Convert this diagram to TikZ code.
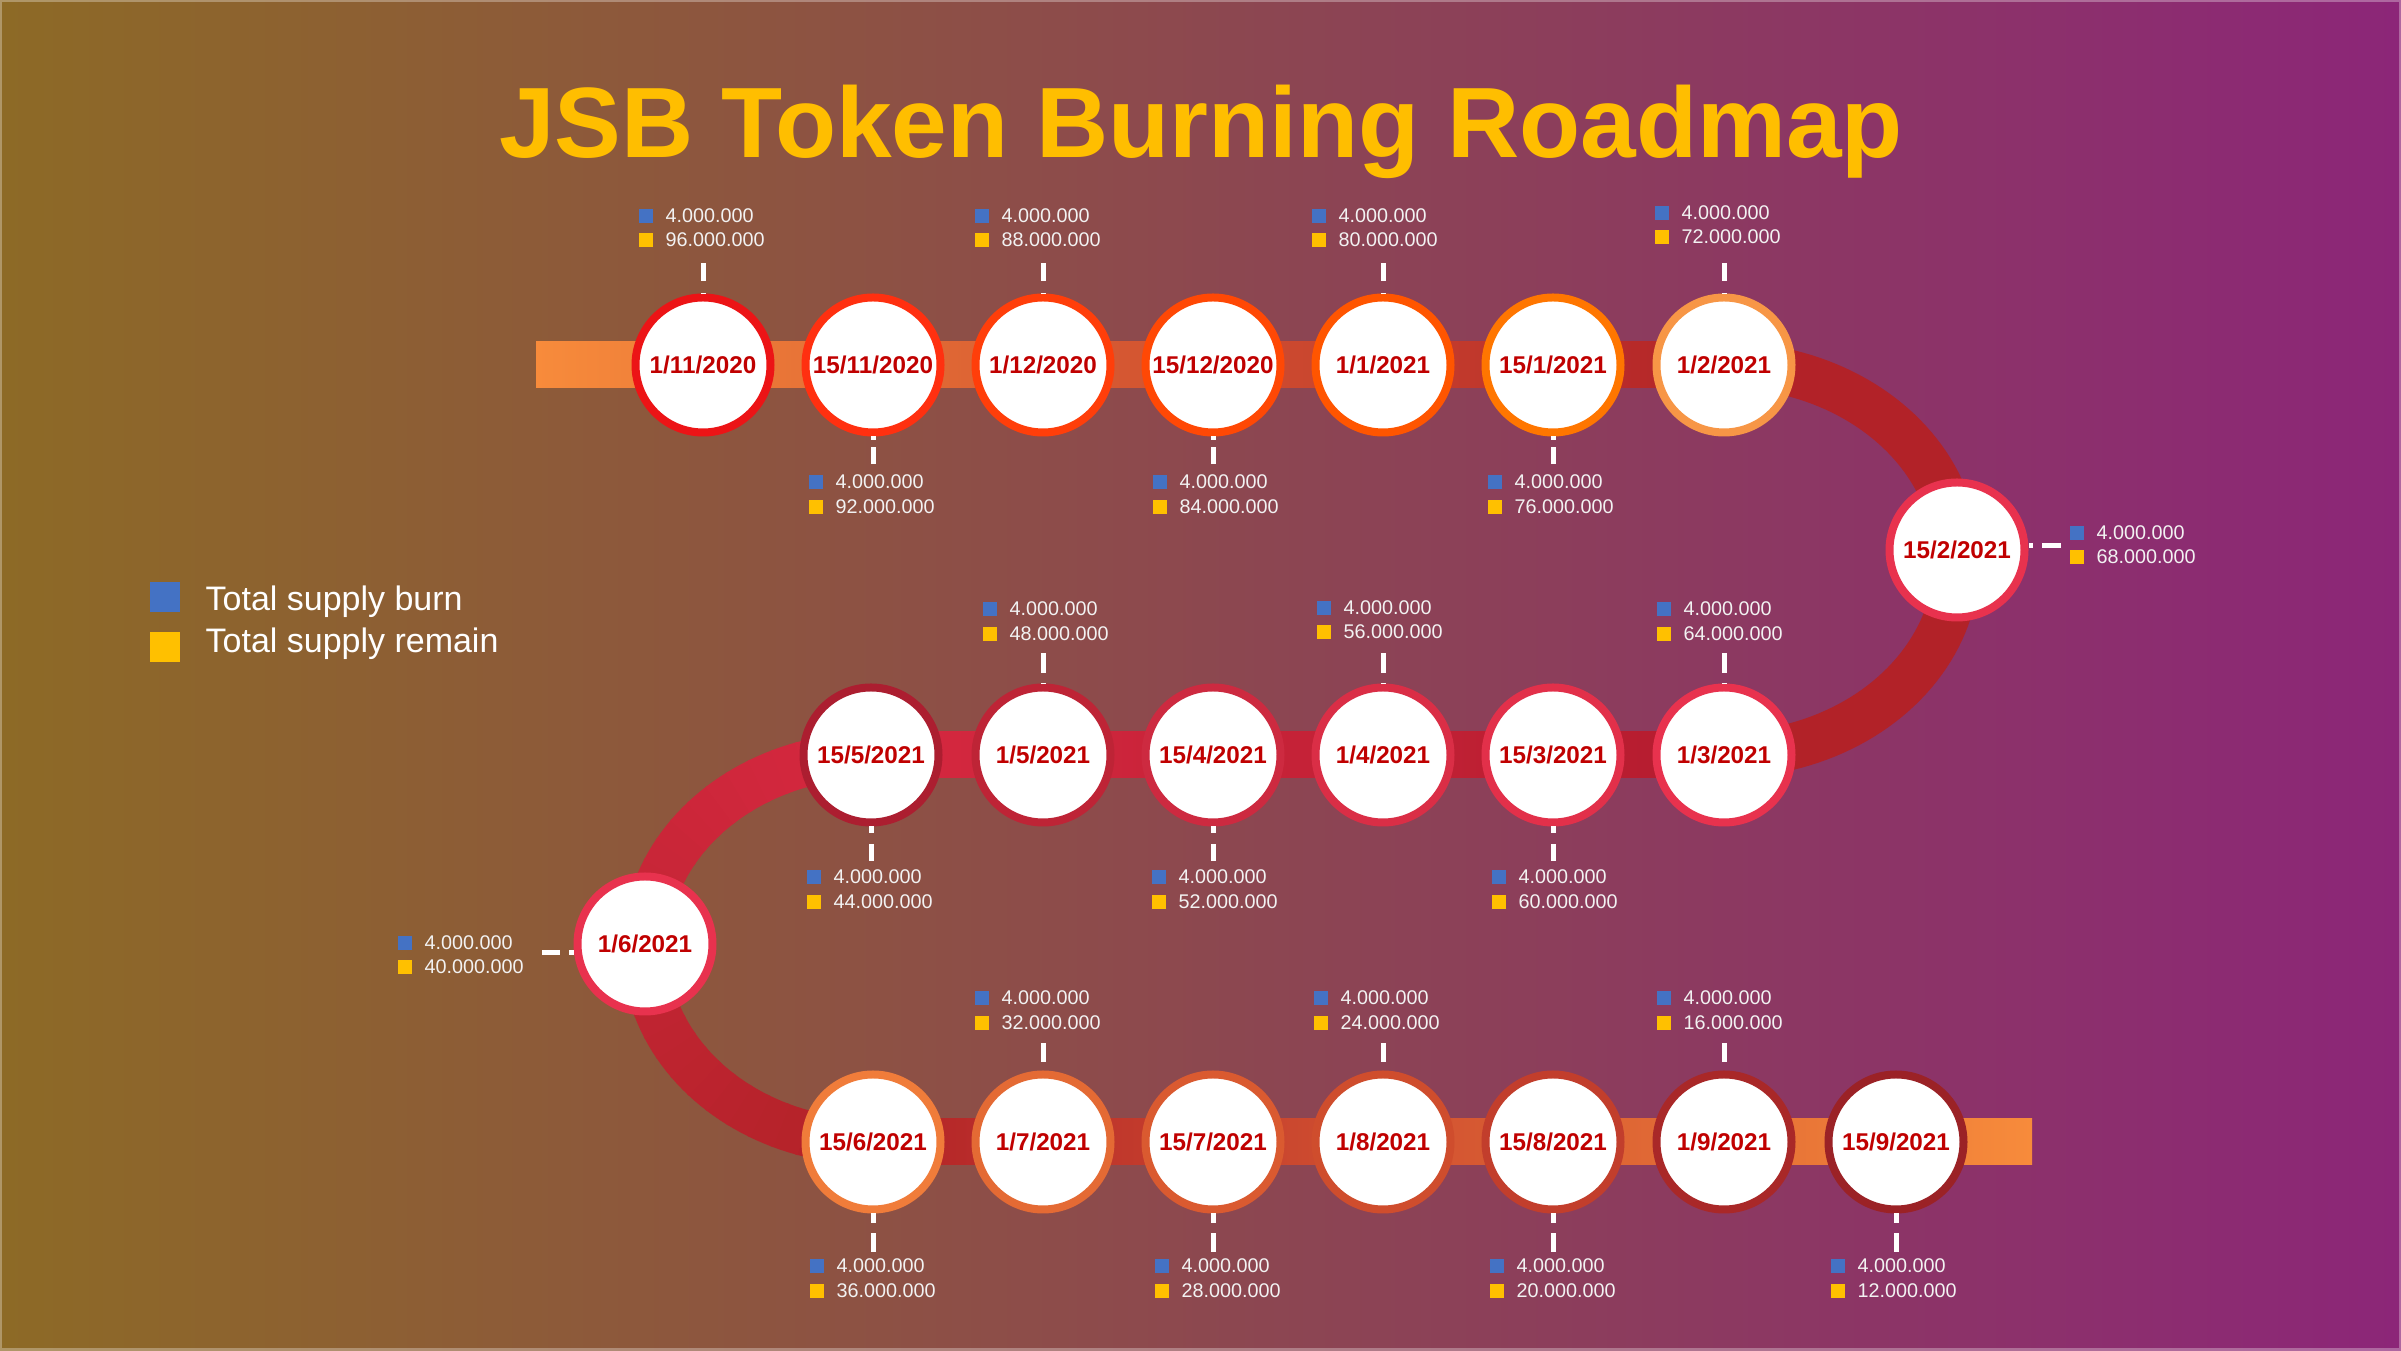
\documentclass[tikz,border=0pt]{standalone}
\usepackage{fontspec}
\setmainfont{Liberation Sans}
\definecolor{bgL}{RGB}{141,106,38}
\definecolor{bgM}{RGB}{145,70,86}
\definecolor{bgR}{RGB}{140,38,120}
\definecolor{bandOr}{RGB}{247,139,59}
\definecolor{bandDk}{RGB}{178,34,40}
\definecolor{bandCr}{RGB}{214,40,64}
\definecolor{bandDkb}{RGB}{180,28,46}
\definecolor{datered}{RGB}{192,0,0}
\definecolor{valwhite}{RGB}{242,242,242}
\definecolor{sqblue}{RGB}{68,114,196}
\definecolor{sqyellow}{RGB}{255,192,0}
\definecolor{titleyel}{RGB}{255,190,0}
\definecolor{ra}{RGB}{236,20,22}
\definecolor{rb}{RGB}{255,48,16}
\definecolor{rc}{RGB}{255,62,10}
\definecolor{rd}{RGB}{255,72,5}
\definecolor{re}{RGB}{255,85,0}
\definecolor{rf}{RGB}{255,118,0}
\definecolor{rg}{RGB}{247,150,70}
\definecolor{rh}{RGB}{232,50,78}
\definecolor{ri}{RGB}{226,48,74}
\definecolor{rj}{RGB}{218,46,70}
\definecolor{rk}{RGB}{205,42,64}
\definecolor{rl}{RGB}{190,36,54}
\definecolor{rm}{RGB}{172,30,48}
\definecolor{rn}{RGB}{240,124,58}
\definecolor{ro}{RGB}{228,106,52}
\definecolor{rp}{RGB}{218,90,48}
\definecolor{rq}{RGB}{207,77,45}
\definecolor{rr}{RGB}{194,62,44}
\definecolor{rs}{RGB}{169,40,40}
\definecolor{rt}{RGB}{155,34,38}
\newcommand\jsbtitlefont{\fontsize{28.45pt}{32pt}\selectfont\bfseries}
\newcommand\jsbdatefont{\fontsize{6.9pt}{8pt}\selectfont\bfseries}
\newcommand\jsbvalfont{\fontsize{5.63pt}{7pt}\selectfont}
\newcommand\jsblegfont{\fontsize{9.67pt}{11pt}\selectfont}
% #1 name, #2 text x, #3 y line 1, #4 y line 2, #5 remaining value
\newcommand\jsbval[5]{%
  \fill[sqblue] (#2-26,#3-7) rectangle (#2-12,#3+7);
  \fill[sqyellow] (#2-26,#4-7) rectangle (#2-12,#4+7);
  \node[valt] (#1b) at (#2,#3) {4.000.000};
  \node[valt] (#1r) at (#2,#4) {#5};
}
\begin{document}
\begin{tikzpicture}[x=0.1mm,y=-0.1mm,
  datec/.style={circle, fill=white, line width=0.8mm, minimum size=13.5mm, inner sep=0pt, font=\jsbdatefont, text=datered},
  valt/.style={anchor=west, inner sep=0pt, font=\jsbvalfont, text=valwhite},
  tickl/.style={white, line width=0.5mm},
  legt/.style={anchor=base west, inner sep=0pt, font=\jsblegfont, text=white}]
\useasboundingbox (0,0) rectangle (2401,1351);
% background
\shade[left color=bgL, middle color=bgM, right color=bgR] (0,0) rectangle (2401,1351);
\draw[white, opacity=0.3, line width=0.5mm] (0,0) rectangle (2401,1351);
% bands
\shade[left color=bandOr, right color=bandDk] (536,342) rectangle (1724,388);
\draw[bandDk, line width=4.6mm] plot[domain=-90:90, samples=90, variable=\t] ({1724+233*cos(\t)},{560+195*sin(\t)});
\shade[left color=bandCr, middle color=bandCr, right color=bandDkb] (873,732) rectangle (1724,778);
\foreach \i in {0,...,29}{
  \pgfmathsetmacro\aa{90+6*\i-0.4}
  \pgfmathsetmacro\ab{90+6*(\i+1)+0.4}
  \pgfmathtruncatemacro\pp{100*\i/29}
  \draw[line width=4.6mm, color=bandCr!\pp!bandDk] plot[domain=\aa:\ab, samples=4, variable=\t] ({873+228*cos(\t)},{948.5+193.5*sin(\t)});
}
\shade[left color=bandDk, right color=bandOr] (873,1119) rectangle (2032,1165);
% circles
\node[datec, draw=ra] (n1) at (703,365) {1/11/2020};
\node[datec, draw=rb] (n2) at (873,365) {15/11/2020};
\node[datec, draw=rc] (n3) at (1043,365) {1/12/2020};
\node[datec, draw=rd] (n4) at (1213,365) {15/12/2020};
\node[datec, draw=re] (n5) at (1383,365) {1/1/2021};
\node[datec, draw=rf] (n6) at (1553,365) {15/1/2021};
\node[datec, draw=rg] (n7) at (1724,365) {1/2/2021};
\node[datec, draw=rh] (n8) at (1957,550) {15/2/2021};
\node[datec, draw=rh] (n9) at (1724,755) {1/3/2021};
\node[datec, draw=ri] (n10) at (1553,755) {15/3/2021};
\node[datec, draw=rj] (n11) at (1383,755) {1/4/2021};
\node[datec, draw=rk] (n12) at (1213,755) {15/4/2021};
\node[datec, draw=rl] (n13) at (1043,755) {1/5/2021};
\node[datec, draw=rm] (n14) at (871,755) {15/5/2021};
\node[datec, draw=rh] (n15) at (645,944) {1/6/2021};
\node[datec, draw=rn] (n16) at (873,1142) {15/6/2021};
\node[datec, draw=ro] (n17) at (1043,1142) {1/7/2021};
\node[datec, draw=rp] (n18) at (1213,1142) {15/7/2021};
\node[datec, draw=rq] (n19) at (1383,1142) {1/8/2021};
\node[datec, draw=rr] (n20) at (1553,1142) {15/8/2021};
\node[datec, draw=rs] (n21) at (1724,1142) {1/9/2021};
\node[datec, draw=rt] (n22) at (1896,1142) {15/9/2021};
% ticks row 1
\coordinate (k1) at (703,263);
\coordinate (k2) at (873,464);
\coordinate (k3) at (1043,263);
\coordinate (k4) at (1213,464);
\coordinate (k5) at (1383,263);
\coordinate (k6) at (1553,464);
\coordinate (k7) at (1724,263);
\coordinate (k8) at (2061,546);
\draw[tickl, dash pattern=on 1.8mm off 1.2mm] (k1) -- (n1.north);
\draw[tickl, dash pattern=on 1.8mm off 1.2mm] (k3) -- (n3.north);
\draw[tickl, dash pattern=on 1.8mm off 1.2mm] (k5) -- (n5.north);
\draw[tickl, dash pattern=on 1.8mm off 1.2mm] (k7) -- (n7.north);
\draw[tickl, dash pattern=on 1.7mm off 0.7mm] (k2) -- (n2.south);
\draw[tickl, dash pattern=on 1.7mm off 0.7mm] (k4) -- (n4.south);
\draw[tickl, dash pattern=on 1.7mm off 0.7mm] (k6) -- (n6.south);
\draw[tickl, dash pattern=on 1.9mm off 0.9mm] (k8) -- (k8 -| n8.east);
% ticks row 2
\coordinate (k9) at (1724,653);
\coordinate (k10) at (1553,861);
\coordinate (k11) at (1383,653);
\coordinate (k12) at (1213,861);
\coordinate (k13) at (1043,653);
\coordinate (k14) at (871,861);
\coordinate (k15) at (542,953);
\draw[tickl, dash pattern=on 2mm off 1mm] (k9) -- (n9.north);
\draw[tickl, dash pattern=on 2mm off 1mm] (k11) -- (n11.north);
\draw[tickl, dash pattern=on 2mm off 1mm] (k13) -- (n13.north);
\draw[tickl, dash pattern=on 1.7mm off 1.1mm] (k10) -- (n10.south);
\draw[tickl, dash pattern=on 1.7mm off 1.1mm] (k12) -- (n12.south);
\draw[tickl, dash pattern=on 1.7mm off 1.1mm] (k14) -- (n14.south);
\draw[tickl, dash pattern=on 1.8mm off 0.9mm] (k15) -- (k15 -| n15.west);
% ticks row 3
\coordinate (k16) at (873,1252);
\coordinate (k17) at (1043,1043);
\coordinate (k18) at (1213,1252);
\coordinate (k19) at (1383,1043);
\coordinate (k20) at (1553,1252);
\coordinate (k21) at (1724,1043);
\coordinate (k22) at (1896,1252);
\draw[tickl, dash pattern=on 1.9mm off 0.9mm] (k17) -- (n17.north);
\draw[tickl, dash pattern=on 1.9mm off 0.9mm] (k19) -- (n19.north);
\draw[tickl, dash pattern=on 1.9mm off 0.9mm] (k21) -- (n21.north);
\draw[tickl, dash pattern=on 1.9mm off 1mm] (k16) -- (n16.south);
\draw[tickl, dash pattern=on 1.9mm off 1mm] (k18) -- (n18.south);
\draw[tickl, dash pattern=on 1.9mm off 1mm] (k20) -- (n20.south);
\draw[tickl, dash pattern=on 1.9mm off 1mm] (k22) -- (n22.south);
% value labels
\jsbval{v1}{665}{216}{240}{96.000.000}
\jsbval{v2}{835}{482}{507}{92.000.000}
\jsbval{v3}{1001}{216}{240}{88.000.000}
\jsbval{v4}{1179}{482}{507}{84.000.000}
\jsbval{v5}{1338}{216}{240}{80.000.000}
\jsbval{v6}{1514}{482}{507}{76.000.000}
\jsbval{v7}{1681}{213}{237}{72.000.000}
\jsbval{v8}{2096}{533}{557}{68.000.000}
\jsbval{v9}{1683}{609}{634}{64.000.000}
\jsbval{v10}{1518}{877}{902}{60.000.000}
\jsbval{v11}{1343}{608}{632}{56.000.000}
\jsbval{v12}{1178}{877}{902}{52.000.000}
\jsbval{v13}{1009}{609}{634}{48.000.000}
\jsbval{v14}{833}{877}{902}{44.000.000}
\jsbval{v15}{424}{943}{967}{40.000.000}
\jsbval{v16}{836}{1266}{1291}{36.000.000}
\jsbval{v17}{1001}{998}{1023}{32.000.000}
\jsbval{v18}{1181}{1266}{1291}{28.000.000}
\jsbval{v19}{1340}{998}{1023}{24.000.000}
\jsbval{v20}{1516}{1266}{1291}{20.000.000}
\jsbval{v21}{1683}{998}{1023}{16.000.000}
\jsbval{v22}{1857}{1266}{1291}{12.000.000}
% legend
\fill[sqblue] (150,582) rectangle (180,612);
\fill[sqyellow] (150,632) rectangle (180,662);
\node[legt] (leg1) at (205,611) {Total supply burn};
\node[legt] (leg2) at (205,653) {Total supply remain};
% title
\node[font=\jsbtitlefont, text=titleyel, anchor=base, inner sep=0pt] (title) at (1201,158) {JSB Token Burning Roadmap};
\end{tikzpicture}
\end{document}
